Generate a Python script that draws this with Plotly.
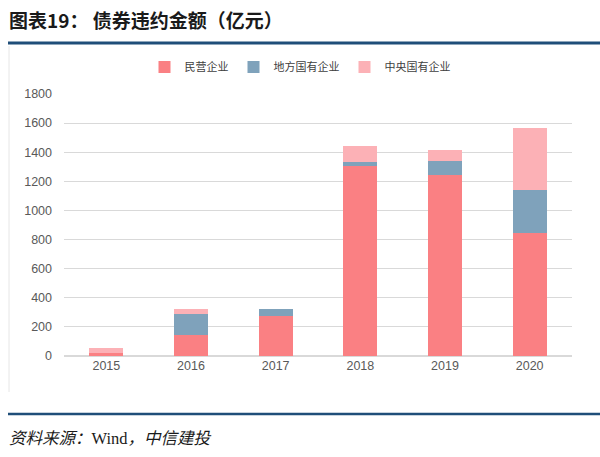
import plotly.graph_objects as go

years = ["2015", "2016", "2017", "2018", "2019", "2020"]
private = [20, 147, 273, 1305, 1241, 843]
local_soe = [0, 140, 53, 26, 101, 297]
central_soe = [32, 39, 0, 112, 73, 428]
y_ticks = [0, 200, 400, 600, 800, 1000, 1200, 1400, 1600, 1800]

names = ["民营企业", "地方国有企业", "中央国有企业"]
colors = ["#FA8083", "#7FA2BB", "#FCB1B6"]

W, H = 600, 457
PL, PR, PT, PB = 64, 572, 94, 356  # plot box in pixels
PW, PH = PR - PL, PB - PT

fig = go.Figure()
for nm, vals, c in zip(names, [private, local_soe, central_soe], colors):
    fig.add_trace(go.Bar(x=years, y=vals, name=nm, marker=dict(color=c, line=dict(width=0)),
                         width=0.4))

font_cjk = "Noto Sans CJK SC"


def xp(x):
    return (x - PL) / PW


def yp(y):
    return (PB - y) / PH


fig.update_layout(
    width=W, height=H,
    barmode="stack",
    paper_bgcolor="white", plot_bgcolor="white",
    margin=dict(l=PL, r=W - PR, t=PT, b=H - PB, pad=0),
    font=dict(family=font_cjk, size=11, color="#595959"),
    showlegend=True,
    legend=dict(orientation="h", x=xp(300), xanchor="center", y=yp(67), yanchor="middle",
                traceorder="normal",
                font=dict(size=11, color="#404040", family=font_cjk),
                itemwidth=30, tracegroupgap=0, bgcolor="rgba(0,0,0,0)"),
    xaxis=dict(showgrid=False, showline=False, ticks="",
               tickfont=dict(size=12.5, color="#595959", family="Liberation Sans")),
    yaxis=dict(range=[0, 1800], tickvals=y_ticks, showgrid=True, gridcolor="#D9D9D9", gridwidth=1,
               zeroline=True, zerolinecolor="#D9D9D9", ticks="", ticklabelstandoff=11,
               tickfont=dict(size=12.5, color="#595959", family="Liberation Sans")),
)

fig.add_annotation(xref="paper", yref="paper",
                   x=xp(8), y=yp(19.5), xanchor="left", yanchor="middle", borderpad=0,
                   text="<b>图表19： 债券违约金额（亿元）</b>", showarrow=False,
                   font=dict(family=font_cjk, size=19, color="#1a1a1a"))
fig.add_annotation(xref="paper", yref="paper",
                   x=xp(8), y=yp(437), xanchor="left", yanchor="middle", borderpad=0,
                   text="<i>资料来源：</i><span style='font-family:Liberation Serif'>Wind</span><i>，中信建投</i>",
                   showarrow=False,
                   font=dict(family=font_cjk, size=16.5, color="#1a1a1a"))

fig.add_shape(type="line", xref="paper", yref="paper", x0=xp(8), x1=xp(600), y0=yp(43), y1=yp(43),
              line=dict(color="#1F4E79", width=3))
fig.add_shape(type="line", xref="paper", yref="paper", x0=xp(8), x1=xp(600), y0=yp(414), y1=yp(414),
              line=dict(color="#1F4E79", width=2.5))
fig.add_shape(type="line", xref="paper", yref="paper", x0=xp(9), x1=xp(9), y0=yp(46), y1=yp(392),
              line=dict(color="#E6E6E6", width=1))

fig.write_html("out.html",
               config={"displayModeBar": False},
               post_script="document.body.style.margin='0';document.body.style.padding='0';"
                           "document.body.style.overflow='hidden';")
